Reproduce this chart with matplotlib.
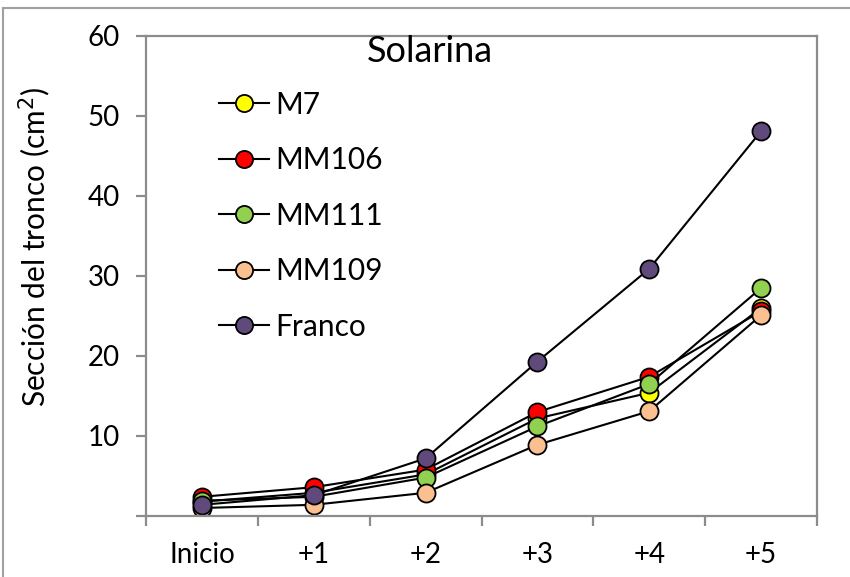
import matplotlib
matplotlib.use('Agg')
import matplotlib.pyplot as plt
from matplotlib.lines import Line2D

plt.rcParams['font.family'] = ['Lato', 'DejaVu Sans']

# datos: seccion del tronco por portainjerto
etapas = ['Inicio', '+1', '+2', '+3', '+4', '+5']
m7 = [1.8, 2.9, 5.2, 12.2, 15.4, 26.0]
mm106 = [2.4, 3.6, 5.8, 13.0, 17.4, 25.6]
mm111 = [1.9, 2.4, 4.8, 11.2, 16.5, 28.5]
mm109 = [1.0, 1.4, 2.9, 8.9, 13.1, 25.1]
franco = [1.4, 2.6, 7.2, 19.3, 30.9, 48.1]

series = [('M7', m7, '#ffff00'),
          ('MM106', mm106, '#ff0000'),
          ('MM111', mm111, '#92d050'),
          ('MM109', mm109, '#fac090'),
          ('Franco', franco, '#604a7b')]

fig = plt.figure(figsize=(8.5, 5.77), dpi=100)
ax = fig.add_axes([146/850, 61/577, 671/850, 480/577])

x = range(len(etapas))
for nombre, vals, col in series:
    ax.plot(x, vals, color='black', lw=1.5, marker='o', markersize=13,
            markerfacecolor=col, markeredgecolor='black', markeredgewidth=1.3,
            label=nombre)

gris = '#8c8c8c'
for s in ax.spines.values():
    s.set_color(gris)
    s.set_linewidth(1.6)

ax.set_xlim(-0.5, 5.5)
ax.set_ylim(0, 60)
ax.set_yticks(range(0, 61, 10))
ax.set_yticklabels([''] + [str(v) for v in range(10, 61, 10)])
ax.tick_params(axis='y', length=7, width=1.6, color=gris, labelsize=20, pad=12)

# ticks en los limites de categoria, etiquetas centradas
ax.set_xticks([i - 0.5 for i in range(len(etapas) + 1)])
ax.set_xticklabels([])
ax.tick_params(axis='x', which='major', length=7, width=1.6, color=gris)
ax.set_xticks(list(x), minor=True)
ax.set_xticklabels(etapas, minor=True)
ax.tick_params(axis='x', which='minor', length=0, labelsize=20, pad=19)

ax.set_ylabel('Sección del tronco (cm$^2$)', fontsize=21.5)
ax.yaxis.set_label_coords(-0.138, 0.56)

ax.text(0.423, 0.967, 'Solarina', transform=ax.transAxes, fontsize=26,
        ha='center', va='center')

ax.legend(loc='upper left', bbox_to_anchor=(0.086, 0.917), frameon=False,
          fontsize=21.5, handlelength=1.7, handletextpad=0.2,
          labelspacing=0.92, markerscale=0.95, borderpad=0)

# marco exterior
fig.add_artist(Line2D([3/850, 1], [1 - 8/577, 1 - 8/577], color='#a0a0a0', lw=1.5))
fig.add_artist(Line2D([3/850, 3/850], [0, 1 - 8/577], color='#a0a0a0', lw=1.5))

fig.savefig('out.png', dpi=100)
